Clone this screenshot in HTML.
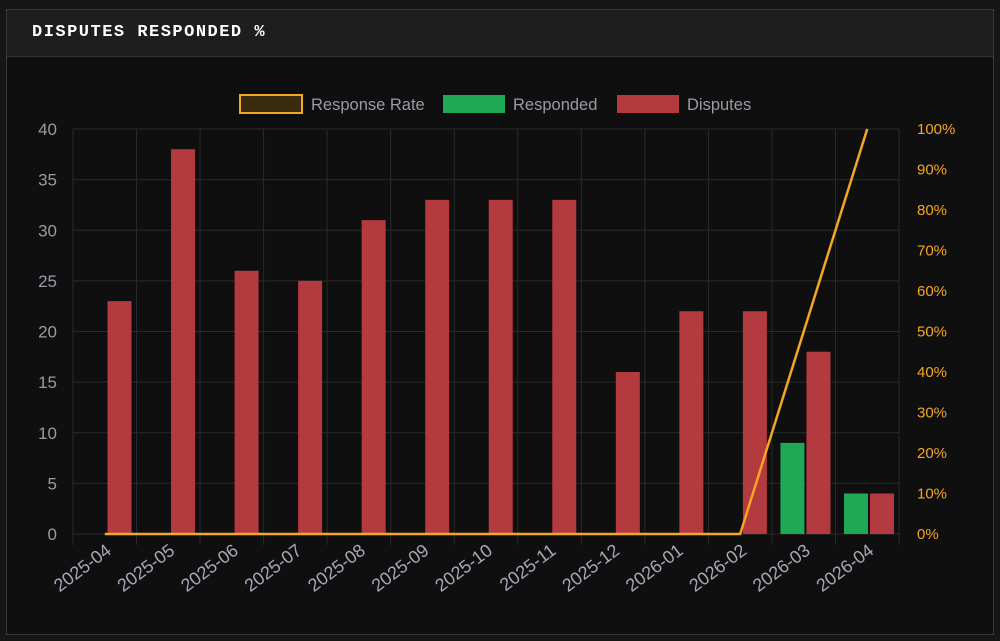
<!DOCTYPE html>
<html><head><meta charset="utf-8"><style>
body{margin:0;background:#161616;width:1000px;height:641px;overflow:hidden;font-family:"Liberation Sans",sans-serif}
.panel{position:absolute;left:6px;top:9px;width:986px;height:624px;border:1px solid #3a3a3a;background:#0f0f0f}
.hdr{height:46px;background:#1e1e1e;border-bottom:1px solid #333;color:#fff;font-family:"Liberation Mono",monospace;font-size:17px;font-weight:bold;letter-spacing:1.5px;line-height:46px;padding-left:25px}
svg{position:absolute;left:0;top:0}
</style></head><body>
<div class="panel"><div class="hdr">DISPUTES RESPONDED %</div></div>
<svg width="1000" height="641" font-family="Liberation Sans, sans-serif">
<g id="g"></g>
</svg>
<script>
const g=document.getElementById('g');let s='';
const x0=73,w=63.54,y0=534,pu=10.125;
for(let i=0;i<=8;i++){const y=y0-i*5*pu;s+=`<line x1="${x0}" x2="899" y1="${y}" y2="${y}" stroke="#2a2a2a"/>`;
s+=`<text x="57" y="${y+6}" fill="#9a9aa8" font-size="17" text-anchor="end">${i*5}</text>`;}
for(let i=0;i<=10;i++){const y=y0-i*40.5;s+=`<text x="917" y="${y+5}" fill="#f5a623" font-size="15">${i*10}%</text>`;}
for(let i=0;i<=13;i++){const x=x0+i*w;s+=`<line x1="${x}" x2="${x}" y1="129" y2="545" stroke="#2a2a2a"/>`;}
const D=[23,38,26,25,31,33,33,33,16,22,22,18,4],R=[0,0,0,0,0,0,0,0,0,0,0,9,4];
const L=['2025-04','2025-05','2025-06','2025-07','2025-08','2025-09','2025-10','2025-11','2025-12','2026-01','2026-02','2026-03','2026-04'];
let pts=[];const P=[0,0,0,0,0,0,0,0,0,0,0,50,100];
for(let i=0;i<13;i++){const cx=x0+i*w;
if(R[i])s+=`<rect x="${cx+8.5}" y="${y0-R[i]*pu}" width="24" height="${R[i]*pu}" fill="#1fa855"/>`;
s+=`<rect x="${cx+34.5}" y="${y0-D[i]*pu}" width="24" height="${D[i]*pu}" fill="#b33a3f"/>`;
const c=cx+w/2;pts.push(`${c},${y0-P[i]*4.05}`);
s+=`<text transform="translate(${c+4},${548}) rotate(-37)" fill="#a8a8b8" font-size="18" text-anchor="end" dy="6">${L[i]}</text>`;}
s+=`<polyline points="${pts.join(' ')}" fill="none" stroke="#f5a623" stroke-width="2.5"/>`;
s+=`<rect x="240" y="95" width="62" height="18" fill="#3a2a10" stroke="#f5a623" stroke-width="2"/><text x="311" y="110" fill="#9a9aa8" font-size="16.5">Response Rate</text>`;
s+=`<rect x="443" y="95" width="62" height="18" fill="#1fa855"/><text x="513" y="110" fill="#9a9aa8" font-size="16.5">Responded</text>`;
s+=`<rect x="617" y="95" width="62" height="18" fill="#b33a3f"/><text x="687" y="110" fill="#9a9aa8" font-size="16.5">Disputes</text>`;
g.innerHTML=s;
</script>
</body></html>
